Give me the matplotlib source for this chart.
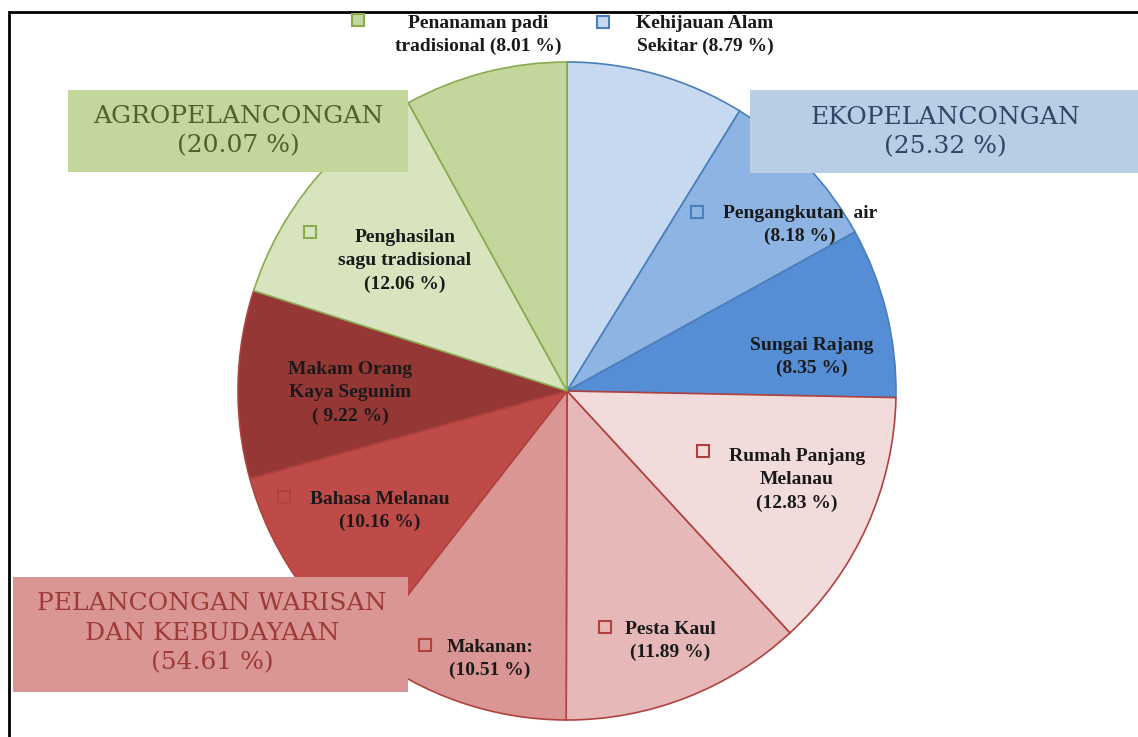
import matplotlib
matplotlib.use("Agg")
import matplotlib.pyplot as plt
from matplotlib.patches import Rectangle

# nilai peratus setiap tarikan (ikut arah jam dari atas)
labels = ["Kehijauan Alam\nSekitar (8.79 %)",
          "Pengangkutan  air\n(8.18 %)",
          "Sungai Rajang\n(8.35 %)",
          "Rumah Panjang\nMelanau\n(12.83 %)",
          "Pesta Kaul\n(11.89 %)",
          "Makanan:\n(10.51 %)",
          "Bahasa Melanau\n(10.16 %)",
          "Makam Orang\nKaya Segunim\n( 9.22 %)",
          "Penghasilan\nsagu tradisional\n(12.06 %)",
          "Penanaman padi\ntradisional (8.01 %)"]
values = [8.79, 8.18, 8.35, 12.83, 11.89, 10.51, 10.16, 9.22, 12.06, 8.01]
colors = ["#C6D9F1", "#8EB4E3", "#558ED5",
          "#F2DCDB", "#E6B9B8", "#D99694", "#BE4B48", "#953735",
          "#D7E4BD", "#C3D69B"]
edges = ["#4A7EBB"] * 3 + ["#B0413E"] * 5 + ["#8AAB4F"] * 2

groups = ["AGROPELANCONGAN\n(20.07 %)",
          "EKOPELANCONGAN\n(25.32 %)",
          "PELANCONGAN WARISAN\nDAN KEBUDAYAAN\n(54.61 %)"]

W, H = 1138, 737
fig = plt.figure(figsize=(W / 100, H / 100), dpi=100)
ax = fig.add_axes([0, 0, 1, 1])

def py(y):
    return H - y

wedges, _ = ax.pie(values, colors=colors, startangle=90, counterclock=False,
                   center=(567, py(391)), radius=329, frame=True)
for w, ec in zip(wedges, edges):
    w.set_edgecolor(ec)
    w.set_linewidth(1.2)
ax.set_xlim(0, W)
ax.set_ylim(0, H)
ax.set_aspect("equal")
ax.axis("off")

# bingkai
ax.plot([10, W], [py(12), py(12)], color="black", lw=2)
ax.plot([9, 9], [py(12), 0], color="black", lw=2)

lab_font = dict(family="Liberation Serif", fontsize=14, fontweight="bold",
                color="#1a1a1a", ha="center", va="center", linespacing=1.45)

# kedudukan label (piksel)
lab_pos = [(705, 35), (800, 225), (812, 357), (797, 480), (670, 641),
           (490, 659), (380, 511), (350, 393), (405, 261), (478, 35)]
box_pos = [(603, 22), (697, 212), None, (703, 451), (605, 627),
           (425, 645), (284, 497), None, (310, 232), (358, 20)]
filled = (0, 1, 9)
for i, (lab, (x, y)) in enumerate(zip(labels, lab_pos)):
    ax.text(x, py(y), lab, **lab_font, zorder=5)
    if box_pos[i] is not None:
        bx, by = box_pos[i]
        ax.plot(bx, py(by), marker="s", ms=8,
                mfc=colors[i] if i in filled else "none",
                mec=edges[i], mew=1.5, zorder=5)

# kotak kumpulan
box_geo = [(68, 90, 340, 82, "#C3D69B", "#4F6228", (238, 131)),
           (750, 90, 388, 83, "#B9CDE5", "#2E4766", (945, 132)),
           (13, 577, 395, 115, "#D99694", "#9E3B38", (212, 633))]
for g, (x0, y0, w, h, fc, tc, (tx, ty)) in zip(groups, box_geo):
    ax.add_patch(Rectangle((x0, py(y0 + h)), w, h, facecolor=fc,
                           edgecolor="none", zorder=4))
    ax.text(tx, py(ty), g, family="DejaVu Serif", fontsize=18, color=tc,
            ha="center", va="center", linespacing=1.35, zorder=6)

fig.savefig("out.png", dpi=100)
